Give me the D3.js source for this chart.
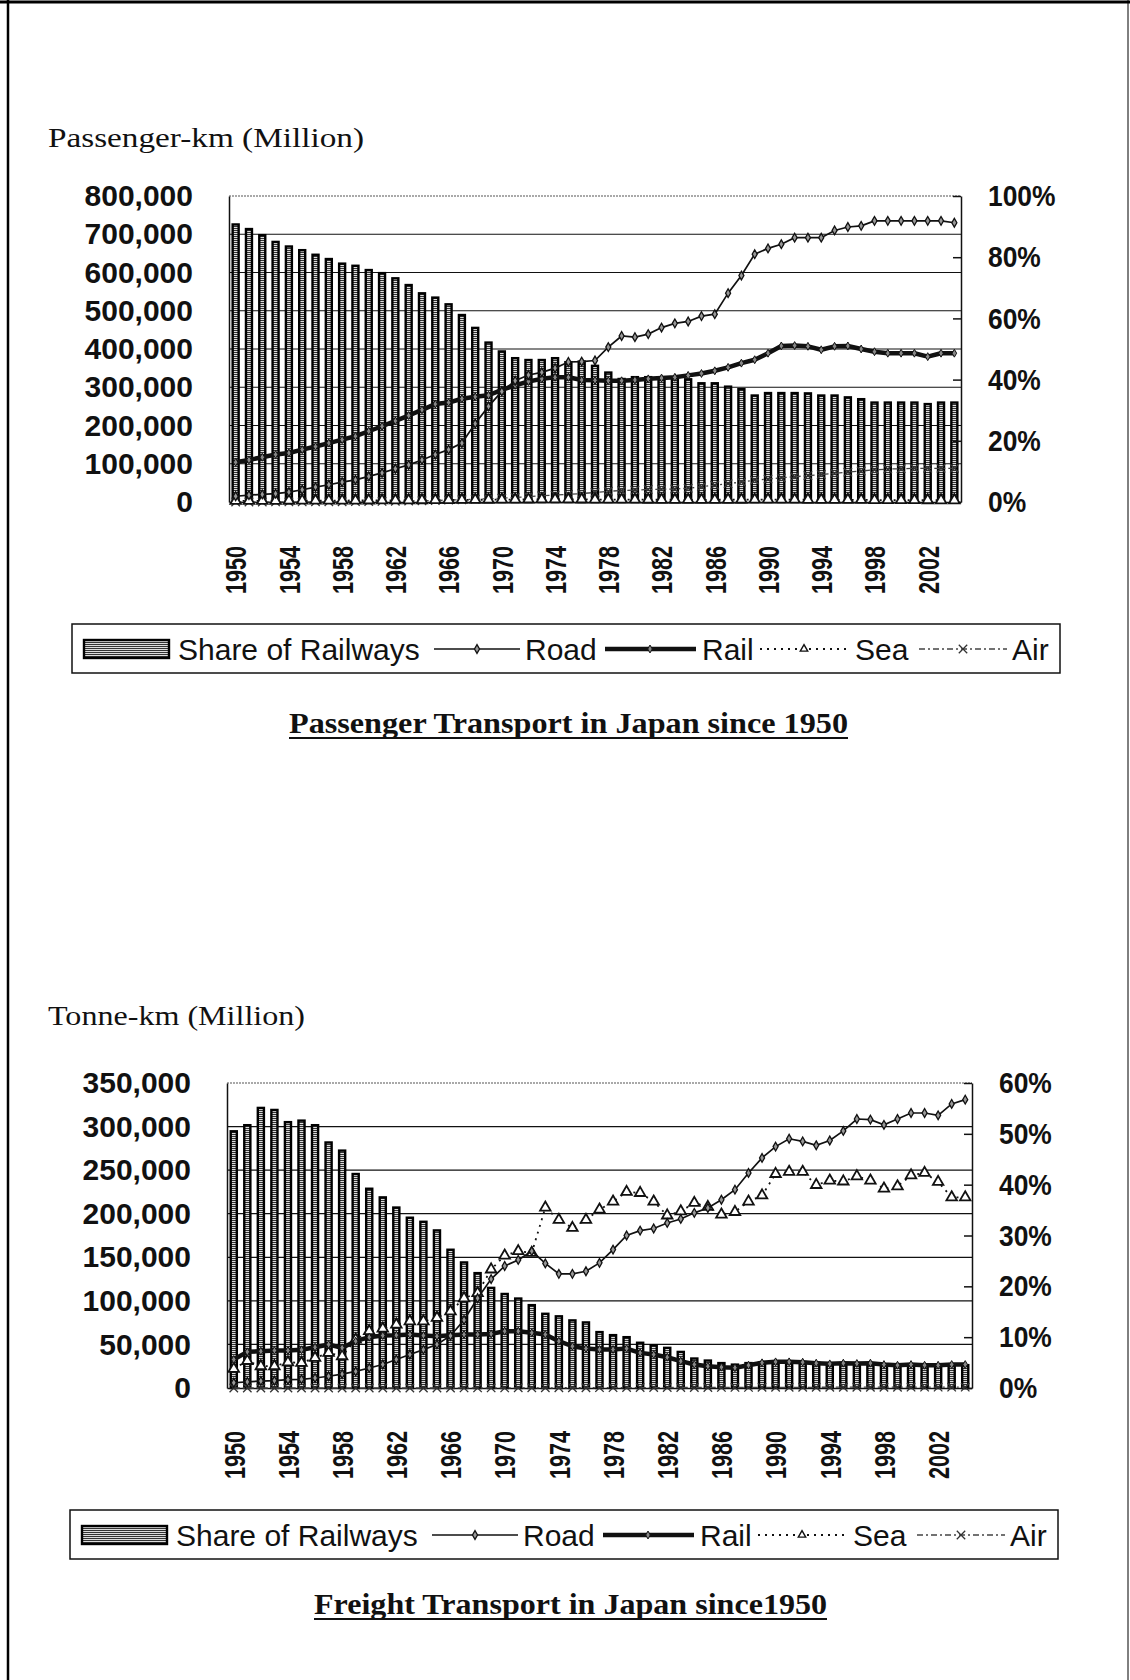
<!DOCTYPE html>
<html>
<head>
<meta charset="utf-8">
<script src="https://cdn.jsdelivr.net/npm/d3@7"></script>
<style>
  body { margin: 0; background: #fff; }
  svg { display: block; }
</style>
</head>
<body>
<div id="chart"></div>
<script>
// categories
const years = d3.range(1950, 2005);
const yearTicks = [1950, 1954, 1958, 1962, 1966, 1970, 1974, 1978, 1982, 1986, 1990, 1994, 1998, 2002];

// Passenger transport, million passenger-km (share of railways in %)
const paxShare = [90.7, 89.2, 87.2, 85.0, 83.5, 82.3, 80.8, 79.4, 77.9, 77.2,
                  75.8, 74.8, 73.1, 70.9, 68.2, 66.8, 64.6, 61.1, 56.9, 52.1,
                  49.2, 47.0, 46.4, 46.4, 47.0, 45.7, 45.9, 44.5, 42.3, 40.2,
                  40.8, 40.8, 40.5, 40.7, 40.1, 38.8, 38.8, 37.7, 36.9, 34.8,
                  35.6, 35.6, 35.6, 35.5, 34.8, 34.8, 34.2, 33.6, 32.5, 32.5,
                  32.5, 32.5, 32.0, 32.5, 32.5];
const paxRoad = [15000, 18000, 20000, 22000, 26000, 32000, 39000, 45000, 52000, 58000,
                 67000, 76000, 87000, 97000, 110000, 124000, 137000, 154000, 205000, 250000,
                 289000, 317000, 332000, 339000, 350000, 366000, 367000, 370000, 405000, 434000,
                 431000, 439000, 456000, 467000, 472000, 486000, 491000, 546000, 592000, 648000,
                 663000, 674000, 691000, 691000, 691000, 710000, 719000, 722000, 735000, 735000,
                 735000, 735000, 735000, 735000, 730000];
const paxRail = [104000, 110000, 117000, 124000, 128000, 137000, 145000, 154000, 163000, 172000,
                 185000, 198000, 212000, 226000, 241000, 256000, 260000, 270000, 275000, 279000,
                 293000, 305000, 315000, 322000, 326000, 326000, 319000, 318000, 317000, 317000,
                 319000, 322000, 324000, 326000, 331000, 336000, 343000, 352000, 363000, 372000,
                 389000, 408000, 409000, 407000, 398000, 407000, 408000, 400000, 393000, 389000,
                 389000, 389000, 380000, 389000, 389000];
const paxSea = [3000, 3100, 3200, 3300, 3400, 3500, 3600, 3700, 3800, 3900,
                4000, 4100, 4300, 4500, 4700, 4900, 5200, 5500, 5800, 6000,
                6200, 6400, 6600, 6800, 6900, 6900, 6700, 6500, 6300, 6200,
                6100, 6000, 5900, 5800, 5700, 5700, 5800, 5900, 6000, 6100,
                6300, 6200, 6100, 5900, 5700, 5600, 5500, 5400, 5200, 5000,
                4900, 4800, 4700, 4600, 4600];
const paxAir = [0, 0, 100, 200, 300, 300, 400, 500, 600, 800,
                1000, 1500, 2000, 2500, 3200, 4000, 5000, 6000, 7500, 8500,
                10000, 12000, 14000, 16500, 18000, 20000, 22000, 25000, 28000, 30000,
                31000, 33000, 33500, 34000, 36000, 40000, 44000, 48000, 52000, 57000,
                60000, 63000, 66000, 69000, 72000, 75000, 78000, 81000, 84000, 86000,
                87000, 88000, 88000, 88000, 88000];
const paxLeftTicks = [0, 100000, 200000, 300000, 400000, 500000, 600000, 700000, 800000];
const paxRightTicks = [0, 20, 40, 60, 80, 100];

// Freight transport, million tonne-km (share of railways in %)
const frtShare = [50.5, 51.7, 55.1, 54.7, 52.3, 52.6, 51.7, 48.3, 46.7, 42.1,
                  39.2, 37.5, 35.5, 33.5, 32.7, 31.0, 27.2, 24.7, 22.6, 19.7,
                  18.5, 17.6, 16.3, 14.6, 14.1, 13.3, 12.9, 11.0, 10.4, 10.0,
                  8.9, 8.4, 7.9, 7.1, 5.8, 5.4, 4.9, 4.6, 4.9, 5.0,
                  5.0, 5.1, 5.1, 5.0, 4.8, 4.8, 4.8, 4.7, 4.6, 4.5,
                  4.5, 4.5, 4.4, 4.6, 4.5];
const frtRoad = [6000, 7000, 8000, 8400, 9500, 10000, 11500, 13500, 16000, 19000,
                 23000, 27000, 32700, 38400, 44000, 50000, 60000, 78000, 103000, 125000,
                 140000, 147000, 157000, 143000, 131000, 131000, 134000, 143600, 158800, 175000,
                 180600, 183000, 189400, 194000, 201000, 206600, 216000, 227600, 246800, 264000,
                 277000, 286000, 283000, 278500, 284000, 295000, 308700, 308000, 302000, 308700,
                 315600, 315600, 312900, 326000, 330900];
const frtRail = [32700, 41500, 42200, 43000, 43000, 43800, 46800, 49900, 46100, 53700,
                 58300, 60200, 60600, 61400, 60200, 59400, 60600, 61400, 61400, 62100,
                 65200, 65200, 63300, 61400, 53700, 47900, 45300, 44200, 44200, 45300,
                 40300, 38400, 35300, 30800, 27000, 25000, 23900, 23200, 26100, 28900,
                 30000, 30000, 29600, 28500, 27700, 28500, 28100, 28500, 26900, 26100,
                 26900, 26100, 26100, 26900, 26900];
const frtSea = [22000, 31000, 25000, 25000, 29500, 28900, 34600, 40300, 36500, 55600,
                65200, 68200, 72800, 76600, 76600, 80500, 88000, 103000, 109000, 136000,
                152000, 157000, 155000, 207000, 193000, 183700, 193000, 204700, 214000, 225000,
                223800, 214000, 198000, 202700, 212400, 207800, 199000, 202000, 214000, 221000,
                245600, 248000, 248000, 233000, 238000, 237000, 243000, 238000, 228800, 231500,
                244000, 246800, 236500, 218800, 218800];
const frtAir = [0, 0, 0, 0, 0, 0, 0, 0, 0, 0,
                0, 0, 0, 0, 0, 0, 0, 100, 100, 100,
                100, 200, 200, 200, 300, 300, 300, 400, 400, 500,
                500, 500, 500, 600, 600, 600, 700, 700, 700, 800,
                800, 800, 800, 800, 900, 900, 900, 900, 900, 900,
                1000, 1000, 1000, 1000, 1000];
const frtLeftTicks = [0, 50000, 100000, 150000, 200000, 250000, 300000, 350000];
const frtRightTicks = [0, 10, 20, 30, 40, 50, 60];

const legendLabels = ['Share of Railways', 'Road', 'Rail', 'Sea', 'Air'];

const sans = '"Liberation Sans", Arial, sans-serif';
const serif = '"Liberation Serif", "Times New Roman", serif';

const W = 1130, H = 1680;
const svg = d3.select('#chart').append('svg')
    .attr('width', W).attr('height', H)
    .attr('viewBox', `0 0 ${W} ${H}`);

svg.append('rect').attr('width', W).attr('height', H).attr('fill', '#fff');

// striped fill for the bars
const pat = svg.append('defs').append('pattern')
    .attr('id', 'hatch')
    .attr('patternUnits', 'userSpaceOnUse')
    .attr('width', 4).attr('height', 2);
pat.append('rect').attr('width', 4).attr('height', 2).attr('fill', '#dcdcdc');
pat.append('rect').attr('width', 4).attr('height', 1).attr('fill', '#333');

// page frame
svg.append('line').attr('x1', 0).attr('x2', W).attr('y1', 2).attr('y2', 2)
    .attr('stroke', '#000').attr('stroke-width', 3);
svg.append('line').attr('x1', 8).attr('x2', 8).attr('y1', 0).attr('y2', H)
    .attr('stroke', '#000').attr('stroke-width', 2.5);
svg.append('line').attr('x1', 1128).attr('x2', 1128).attr('y1', 0).attr('y2', H)
    .attr('stroke', '#000').attr('stroke-width', 1);

const roadSym = d3.symbol(d3.symbolDiamond, 22);
const railSym = d3.symbol(d3.symbolDiamond, 18);
const seaSym = d3.symbol(d3.symbolTriangle, 48);
const airSym = d3.symbol(d3.symbolX, 48);

function drawChart(c) {
    const g = svg.append('g');

    const x = d3.scaleBand().domain(years)
        .range([c.left, c.right])
        .paddingInner(0.55).paddingOuter(0.275);
    const yL = d3.scaleLinear().domain([0, c.leftTicks[c.leftTicks.length - 1]]).range([c.bottom, c.top]);
    const yR = d3.scaleLinear().domain([0, c.rightTicks[c.rightTicks.length - 1]]).range([c.bottom, c.top]);
    const cx = d => x(d) + x.bandwidth() / 2;

    // gridlines
    g.selectAll('.grid')
        .data(c.leftTicks.slice(1, -1))
        .enter().append('line')
        .attr('x1', c.left).attr('x2', c.right)
        .attr('y1', d => yL(d)).attr('y2', d => yL(d))
        .attr('stroke', '#111').attr('stroke-width', 1.2);

    // top edge of plot area (dotted grey)
    g.append('line')
        .attr('x1', c.left).attr('x2', c.right)
        .attr('y1', c.top).attr('y2', c.top)
        .attr('stroke', '#555').attr('stroke-width', 1.2)
        .attr('stroke-dasharray', '2,1');

    // share of railways bars (right axis)
    g.selectAll('.bar')
        .data(years)
        .enter().append('rect')
        .attr('x', d => x(d))
        .attr('y', (d, i) => yR(c.share[i]))
        .attr('width', x.bandwidth())
        .attr('height', (d, i) => c.bottom - yR(c.share[i]))
        .attr('fill', 'url(#hatch)')
        .attr('stroke', '#000')
        .attr('stroke-width', 2.4);

    // left axis
    const axL = g.append('g')
        .attr('transform', `translate(${c.left},0)`)
        .call(d3.axisLeft(yL).tickValues(c.leftTicks).tickSize(0).tickSizeOuter(0)
            .tickPadding(36).tickFormat(d3.format(',')));
    axL.select('.domain').attr('stroke', '#111').attr('stroke-width', 1.5);
    axL.selectAll('text')
        .attr('font-family', sans).attr('font-size', 30).attr('font-weight', 'bold')
        .attr('fill', '#111');

    // right axis, ticks point inwards
    const axR = g.append('g')
        .attr('transform', `translate(${c.right},0)`)
        .call(d3.axisRight(yR).tickValues(c.rightTicks).tickSize(-8).tickSizeOuter(0)
            .tickPadding(27).tickFormat(d => d + '%'));
    axR.select('.domain').attr('stroke', '#111').attr('stroke-width', 1.5);
    axR.selectAll('.tick line').attr('stroke', '#111').attr('stroke-width', 1.5);
    axR.selectAll('text')
        .attr('font-family', sans).attr('font-size', 30).attr('font-weight', 'bold')
        .attr('fill', '#111')
        .each(function () {
            // the % glyph is narrower in the original
            const w = this.getComputedTextLength();
            d3.select(this).attr('textLength', w * 0.88).attr('lengthAdjust', 'spacingAndGlyphs');
        });

    // bottom axis, year labels rotated
    const axB = g.append('g')
        .attr('transform', `translate(0,${c.bottom})`)
        .call(d3.axisBottom(x).tickValues(yearTicks).tickSize(0).tickSizeOuter(0));
    axB.select('.domain').attr('stroke', '#111').attr('stroke-width', 1.5);
    axB.selectAll('text')
        .attr('transform', 'rotate(-90)')
        .attr('text-anchor', 'end')
        .attr('x', -c.labelGap).attr('y', 0).attr('dy', '0.36em')
        .attr('font-family', sans).attr('font-size', 30).attr('font-weight', 'bold')
        .attr('textLength', 48).attr('lengthAdjust', 'spacingAndGlyphs')
        .attr('fill', '#111');

    const line = d3.line().x((d, i) => cx(years[i])).y(d => yL(d));

    // Air
    g.append('path').datum(c.air)
        .attr('d', line).attr('fill', 'none')
        .attr('stroke', '#444').attr('stroke-width', 1.3)
        .attr('stroke-dasharray', '6,3,2,3');
    g.selectAll('.air').data(c.air).enter().append('path')
        .attr('transform', (d, i) => `translate(${cx(years[i])},${yL(d)})`)
        .attr('d', airSym).attr('fill', 'none')
        .attr('stroke', '#333').attr('stroke-width', 1.3);

    // Sea
    g.append('path').datum(c.sea)
        .attr('d', line).attr('fill', 'none')
        .attr('stroke', '#111').attr('stroke-width', 1.8)
        .attr('stroke-dasharray', '2,5');
    g.selectAll('.sea').data(c.sea).enter().append('path')
        .attr('transform', (d, i) => `translate(${cx(years[i])},${yL(d)})`)
        .attr('d', seaSym).attr('fill', '#fff')
        .attr('stroke', '#111').attr('stroke-width', 1.8);

    // Rail
    g.append('path').datum(c.rail)
        .attr('d', line).attr('fill', 'none')
        .attr('stroke', '#111').attr('stroke-width', 4.5)
        .attr('stroke-linejoin', 'round');
    g.selectAll('.rail').data(c.rail).enter().append('path')
        .attr('transform', (d, i) => `translate(${cx(years[i])},${yL(d)})`)
        .attr('d', railSym).attr('fill', '#888')
        .attr('stroke', '#111').attr('stroke-width', 1);

    // Road
    g.append('path').datum(c.road)
        .attr('d', line).attr('fill', 'none')
        .attr('stroke', '#111').attr('stroke-width', 1.7);
    g.selectAll('.road').data(c.road).enter().append('path')
        .attr('transform', (d, i) => `translate(${cx(years[i])},${yL(d)})`)
        .attr('d', roadSym).attr('fill', '#999')
        .attr('stroke', '#111').attr('stroke-width', 1.3);

    // axis title
    g.append('text')
        .attr('x', 48).attr('y', c.unitY)
        .attr('font-family', serif).attr('font-size', 28)
        .attr('textLength', c.unitW).attr('lengthAdjust', 'spacingAndGlyphs')
        .attr('fill', '#111')
        .text(c.unit);

    // legend
    const lg = g.append('g').attr('transform', `translate(${c.legX},${c.legY})`);
    lg.append('rect')
        .attr('width', 988).attr('height', 49)
        .attr('fill', '#fff').attr('stroke', '#111').attr('stroke-width', 1.5);
    const my = 25;
    lg.append('rect')
        .attr('x', 12).attr('y', 16).attr('width', 85).attr('height', 18)
        .attr('fill', 'url(#hatch)').attr('stroke', '#000').attr('stroke-width', 2.4);
    const lgText = [106, 453, 630, 783, 940];
    lg.selectAll('.lt').data(legendLabels).enter().append('text')
        .attr('x', (d, i) => lgText[i]).attr('y', my).attr('dy', '0.36em')
        .attr('font-family', sans).attr('font-size', 30)
        .attr('fill', '#111')
        .text(d => d);
    lg.append('line').attr('x1', 362).attr('x2', 448).attr('y1', my).attr('y2', my)
        .attr('stroke', '#111').attr('stroke-width', 1.7);
    lg.append('path').attr('transform', `translate(405,${my})`).attr('d', roadSym)
        .attr('fill', '#999').attr('stroke', '#111').attr('stroke-width', 1.3);
    lg.append('line').attr('x1', 533).attr('x2', 624).attr('y1', my).attr('y2', my)
        .attr('stroke', '#111').attr('stroke-width', 4.5);
    lg.append('path').attr('transform', `translate(578,${my})`).attr('d', railSym)
        .attr('fill', '#888').attr('stroke', '#111').attr('stroke-width', 1);
    lg.append('line').attr('x1', 688).attr('x2', 776).attr('y1', my).attr('y2', my)
        .attr('stroke', '#111').attr('stroke-width', 1.8).attr('stroke-dasharray', '2,5');
    lg.append('path').attr('transform', `translate(732,${my})`)
        .attr('d', d3.symbol(d3.symbolTriangle, 24))
        .attr('fill', '#fff').attr('stroke', '#111').attr('stroke-width', 1.4);
    lg.append('line').attr('x1', 847).attr('x2', 935).attr('y1', my).attr('y2', my)
        .attr('stroke', '#444').attr('stroke-width', 1.3).attr('stroke-dasharray', '6,3,2,3');
    lg.append('path').attr('transform', `translate(891,${my})`).attr('d', airSym)
        .attr('fill', 'none').attr('stroke', '#333').attr('stroke-width', 1.3);

    // chart title, underlined
    g.append('text')
        .attr('x', c.titleX).attr('y', c.titleY)
        .attr('font-family', serif).attr('font-size', 29).attr('font-weight', 'bold')
        .attr('textLength', c.titleW).attr('lengthAdjust', 'spacingAndGlyphs')
        .attr('fill', '#111')
        .text(c.title);
    g.append('line')
        .attr('x1', c.titleX).attr('x2', c.titleX + c.titleW)
        .attr('y1', c.titleY + 5).attr('y2', c.titleY + 5)
        .attr('stroke', '#111').attr('stroke-width', 1.8);
}

drawChart({
    left: 229, right: 961, top: 196, bottom: 502, labelGap: 44,
    share: paxShare, road: paxRoad, rail: paxRail, sea: paxSea, air: paxAir,
    leftTicks: paxLeftTicks, rightTicks: paxRightTicks,
    unit: 'Passenger-km (Million)', unitY: 147, unitW: 316,
    legX: 72, legY: 624,
    title: 'Passenger Transport in Japan since 1950', titleX: 289, titleY: 733, titleW: 559
});

drawChart({
    left: 227, right: 972, top: 1083, bottom: 1388, labelGap: 43,
    share: frtShare, road: frtRoad, rail: frtRail, sea: frtSea, air: frtAir,
    leftTicks: frtLeftTicks, rightTicks: frtRightTicks,
    unit: 'Tonne-km (Million)', unitY: 1025, unitW: 257,
    legX: 70, legY: 1510,
    title: 'Freight Transport in Japan since1950', titleX: 314, titleY: 1614, titleW: 513
});
</script>
</body>
</html>
